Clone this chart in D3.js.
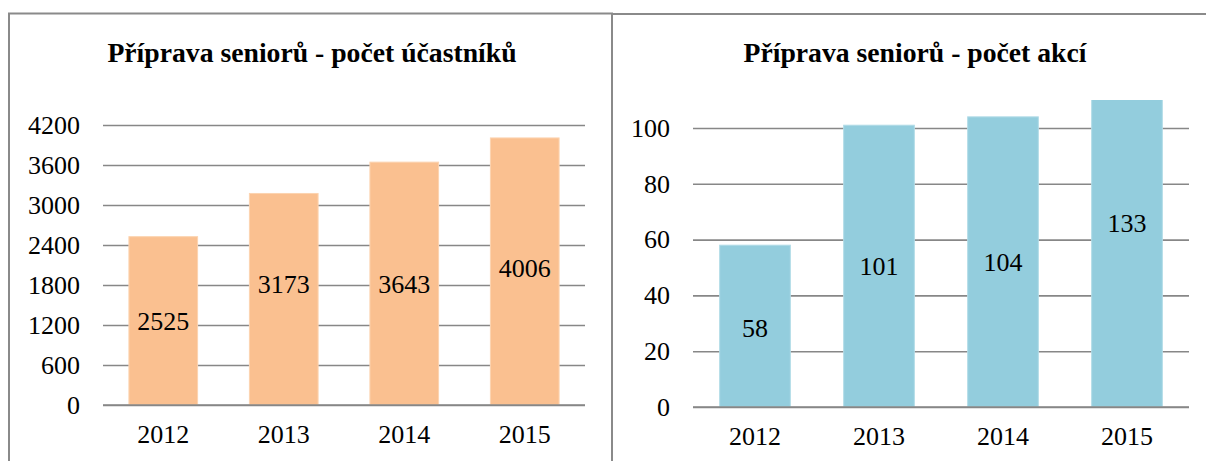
<!DOCTYPE html>
<html>
<head>
<meta charset="utf-8">
<script src="https://cdn.jsdelivr.net/npm/d3@7"></script>
<style>
  body { margin: 0; background: #fff; }
  svg { display: block; }
  svg text { font-family: 'Liberation Serif', 'Times New Roman', serif; }
</style>
</head>
<body>
<script>
  // chart data
  const years = ['2012', '2013', '2014', '2015'];
  const participants = [2525, 3173, 3643, 4006];
  const events = [58, 101, 104, 133];
  const participantTicks = [0, 600, 1200, 1800, 2400, 3000, 3600, 4200];
  const eventTicks = [0, 20, 40, 60, 80, 100];

  const w = 1206;
  const h = 461;
  const font = "'Liberation Serif', 'Times New Roman', serif";

  const svg = d3.select('body')
    .append('svg')
    .attr('width', w)
    .attr('height', h)
    .attr('font-family', font);

  // panel frames
  svg.append('rect')
    .attr('x', 9).attr('y', 13.5)
    .attr('width', 603).attr('height', 470)
    .attr('fill', 'none')
    .attr('stroke', '#8a8a8a')
    .attr('stroke-width', 2);
  svg.append('rect')
    .attr('x', 612).attr('y', 14)
    .attr('width', 620).attr('height', 470)
    .attr('fill', 'none')
    .attr('stroke', '#8a8a8a')
    .attr('stroke-width', 2);

  function drawChart(cfg) {
    const g = svg.append('g');

    const x = d3.scaleBand()
      .domain(years)
      .range([cfg.x0, cfg.x1])
      .paddingInner(0.43)
      .paddingOuter(0.215);

    const y = d3.scaleLinear()
      .domain([0, cfg.max])
      .range([cfg.y0, cfg.y0 - cfg.max * cfg.k]);

    const clipId = 'clip-' + cfg.id;
    g.append('clipPath')
      .attr('id', clipId)
      .append('rect')
      .attr('x', cfg.x0)
      .attr('y', y(cfg.max))
      .attr('width', cfg.x1 - cfg.x0)
      .attr('height', y(0) - y(cfg.max));

    // gridlines + tick labels
    const yAxis = d3.axisLeft(y)
      .tickValues(cfg.ticks)
      .tickSize(-(cfg.x1 - cfg.x0))
      .tickPadding(23)
      .tickFormat(d3.format('d'));
    const ya = g.append('g')
      .attr('transform', 'translate(' + cfg.x0 + ',0)')
      .call(yAxis)
      .attr('font-family', font);
    ya.select('.domain').remove();
    ya.selectAll('.tick line')
      .attr('stroke', '#878787')
      .attr('stroke-width', 1.6);
    ya.selectAll('.tick text')
      .attr('fill', '#000')
      .style('font-size', '26px')
      .style('font-family', font);

    // bars (clipped at the top of the plot area)
    g.append('g')
      .attr('clip-path', 'url(#' + clipId + ')')
      .selectAll('rect')
      .data(cfg.values)
      .enter()
      .append('rect')
      .attr('x', (d, i) => x(years[i]))
      .attr('y', (d) => y(d))
      .attr('width', x.bandwidth())
      .attr('height', (d) => y(0) - y(d))
      .attr('fill', cfg.color)
      .attr('stroke', cfg.edge)
      .attr('stroke-width', 1);

    // zero line on top of bars
    g.append('line')
      .attr('x1', cfg.x0).attr('x2', cfg.x1)
      .attr('y1', y(0)).attr('y2', y(0))
      .attr('stroke', '#878787')
      .attr('stroke-width', 1.6);

    // value labels, centred in the bar (one was nudged by hand in the original)
    g.append('g')
      .selectAll('text')
      .data(cfg.values)
      .enter()
      .append('text')
      .attr('x', (d, i) => x(years[i]) + x.bandwidth() / 2)
      .attr('y', (d, i) => (y(0) + y(d)) / 2 + cfg.labelShift[i])
      .attr('text-anchor', 'middle')
      .attr('dominant-baseline', 'central')
      .style('font-size', '26px')
      .style('font-family', font)
      .text((d) => d);

    // category labels
    const xAxis = d3.axisBottom(x).tickSize(0).tickPadding(20);
    const xa = g.append('g')
      .attr('transform', 'translate(0,' + y(0) + ')')
      .call(xAxis)
      .attr('font-family', font);
    xa.select('.domain').remove();
    xa.selectAll('.tick text')
      .attr('fill', '#000')
      .style('font-size', '26px')
      .style('font-family', font);

    // title
    g.append('text')
      .attr('x', cfg.titleX)
      .attr('y', 62)
      .attr('text-anchor', 'middle')
      .style('font-size', '27.7px')
      .style('font-weight', 'bold')
      .style('font-family', font)
      .text(cfg.title);
  }

  drawChart({
    id: 'a',
    values: participants,
    ticks: participantTicks,
    max: 4200,
    x0: 103, x1: 585,
    y0: 405, k: 280 / 4200,
    color: '#fac090',
    edge: '#fcd3b0',
    labelShift: [1, -15, 1, -3],
    titleX: 312,
    title: 'Příprava seniorů - počet účastníků'
  });

  drawChart({
    id: 'b',
    values: events,
    ticks: eventTicks,
    max: 110,
    x0: 693, x1: 1189,
    y0: 407, k: 2.79,
    color: '#93cddd',
    edge: '#b2dce8',
    labelShift: [2, 0, 1, 2],
    titleX: 915,
    title: 'Příprava seniorů - počet akcí'
  });
</script>
</body>
</html>
